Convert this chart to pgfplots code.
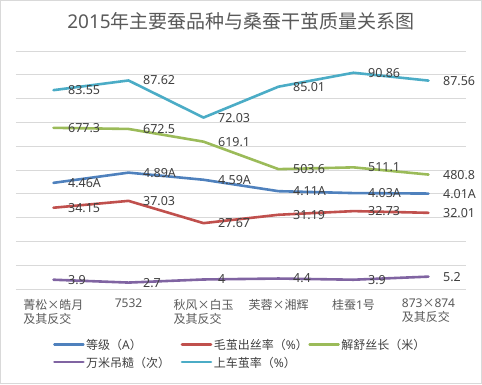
\documentclass[border=0pt]{standalone}
\usepackage{fontspec}
\setmainfont{Noto Sans}
\newfontfamily\cjk{Noto Sans CJK SC}
\newfontfamily\lat{Noto Sans}
\usepackage{pgfplots}
\pgfplotsset{compat=1.18}
\definecolor{cblue}{HTML}{4F81BD}
\definecolor{cred}{HTML}{C0504D}
\definecolor{cgreen}{HTML}{9BBB59}
\definecolor{cpurple}{HTML}{8064A2}
\definecolor{ccyan}{HTML}{4BACC6}
\definecolor{gridgray}{HTML}{D9D9D9}
\definecolor{bordergray}{HTML}{D9D9D9}
\definecolor{titlegray}{HTML}{595959}
\definecolor{labtext}{HTML}{404040}
\begin{document}
\begin{tikzpicture}
\useasboundingbox (0,0) rectangle (482pt,384pt);
\draw[color=bordergray, line width=1pt] (0.5pt,0.5pt) rectangle (481.5pt,383.5pt);
\node[text=titlegray, font=\fontsize{19}{22}\selectfont, inner sep=0pt] at (241pt,363pt) {2015{\cjk 年主要蚕品种与桑蚕干茧质量关系图}};
\begin{axis}[
  at={(16pt,95pt)}, anchor=south west, scale only axis,
  width=450pt, height=238pt,
  xmin=-0.5, xmax=5.5, ymin=0, ymax=10,
  ytick={0,...,10}, yticklabels={}, ymajorgrids,
  grid style={gridgray, line width=0.8pt},
  axis line style={draw=none}, major tick length=0pt,
  xtick={0,...,5},
  xticklabels={{菁松×皓月\\及其反交},{\lat 7532},{秋风×白玉\\及其反交},{芙蓉×湘辉},{桂蚕{\lat 1}号},{{\lat 873}×{\lat 874}\\及其反交}},
  xticklabel style={font=\cjk\fontsize{12}{14}\selectfont, align=left, text=titlegray, yshift=-6.5pt},
  clip=false,
  point meta=explicit symbolic,
  nodes near coords,
  nodes near coords style={font=\lat\fontsize{12.5}{14}\selectfont, anchor=west, xshift=10pt, text=labtext},
  every axis plot/.append style={line width=2.6pt, line join=round, line cap=round, mark=none},
  legend columns=3,
  legend image code/.code={\draw[#1] (0pt,0pt) -- (29pt,0pt);},
  legend style={draw=none, fill=none, inner sep=0pt, at={(axis description cs:0.082,-0.205)}, anchor=north west,
    font=\cjk\fontsize{12}{14}\selectfont, text=labtext, row sep=4pt,
    nodes={inner sep=1.5pt, text depth=0pt, anchor=west}, cells={anchor=west}},
]
\addplot[color=cblue] coordinates {(0,4.46) [4.46A] (1,4.89) [4.89A] (2,4.59) [4.59A] (3,4.11) [4.11A] (4,4.03) [4.03A] (5,4.01) [4.01A]};
\addlegendentry{\makebox[93pt][l]{等级（{\lat A}）}}
\addplot[color=cred] coordinates {(0,3.415) [34.15] (1,3.703) [37.03] (2,2.767) [27.67] (3,3.119) [31.19] (4,3.273) [32.73] (5,3.201) [32.01]};
\addlegendentry{\makebox[93pt][l]{毛茧出丝率（{\lat\%}）}}
\addplot[color=cgreen] coordinates {(0,6.773) [677.3] (1,6.725) [672.5] (2,6.191) [619.1] (3,5.036) [503.6] (4,5.111) [511.1] (5,4.808) [480.8]};
\addlegendentry{\makebox[93pt][l]{解舒丝长（米）}}
\addplot[color=cpurple] coordinates {(0,0.39) [3.9] (1,0.27) [2.7] (2,0.40) [4] (3,0.44) [4.4] (4,0.39) [3.9] (5,0.52) [5.2]};
\addlegendentry{\makebox[93pt][l]{万米吊糙（次）}}
\addplot[color=ccyan] coordinates {(0,8.355) [83.55] (1,8.762) [87.62] (2,7.203) [72.03] (3,8.501) [85.01] (4,9.086) [90.86] (5,8.756) [87.56]};
\addlegendentry{\makebox[93pt][l]{上车茧率（{\lat\%}）}}
\end{axis}
\end{tikzpicture}
\end{document}
